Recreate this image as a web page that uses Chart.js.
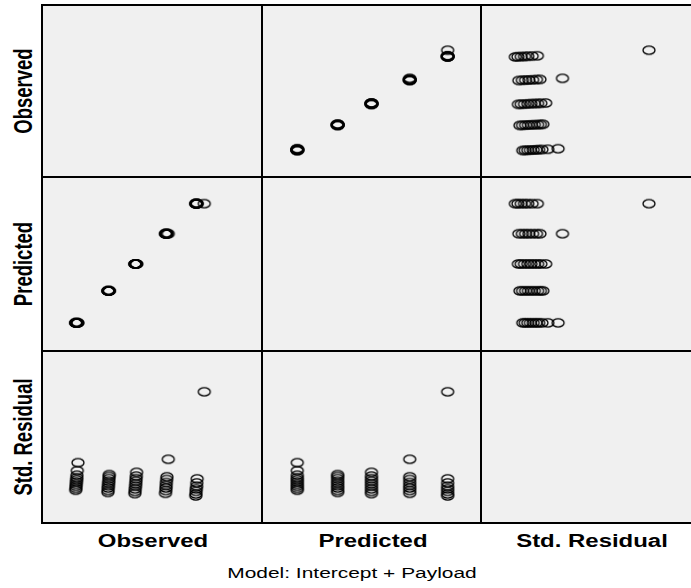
<!DOCTYPE html>
<html>
<head>
<meta charset="utf-8">
<script src="https://cdn.jsdelivr.net/npm/chart.js@4"></script>
<style>
    body { margin: 0; background: #fff; overflow: hidden; }
    #page { position: relative; width: 691px; height: 588px; overflow: hidden; }
    .cell { position: absolute; box-sizing: border-box; border: 2px solid #000; background: #f0f0f0; }
    .cell canvas { display: block; }
    .lbl { position: absolute; white-space: nowrap; color: #000;
           font-family: "Liberation Sans", Arial, sans-serif; }
    .bold { font-weight: bold; }
</style>
</head>
<body>
<div id="page"></div>
<script>
// variable names, in matrix order
const variables = ["Observed", "Predicted", "Std. Residual"];
const caption = "Model: Intercept + Payload";

// one value per case
const observed = [
    15.4, 15.5, 15.6, 15.7, 15.8, 15.9, 16.0, 16.1, 16.3, 16.7,
    33.9, 34.0, 34.1, 34.2, 34.3, 34.4, 34.5, 34.6, 34.7,
    49.4, 49.5, 49.6, 49.8, 49.9, 50.0, 50.1, 50.2, 50.4,
    67.0, 67.2, 67.3, 67.4, 67.5, 67.7, 67.8, 68.6,
    84.4, 84.5, 84.6, 84.7, 84.9, 85.0, 85.2, 89.3
];
const predicted = [
    15.8, 15.8, 15.8, 15.8, 15.8, 15.8, 15.8, 15.8, 15.8, 15.8,
    34.4, 34.4, 34.4, 34.4, 34.4, 34.4, 34.4, 34.4, 34.4,
    50.0, 50.0, 50.0, 50.0, 50.0, 50.0, 50.0, 50.0, 50.0,
    67.6, 67.6, 67.6, 67.6, 67.6, 67.6, 67.6, 67.6,
    85.1, 85.1, 85.1, 85.1, 85.1, 85.1, 85.1, 85.1
];
const stdResidual = [
    -0.53, -0.42, -0.30, -0.18, -0.05, 0.08, 0.20, 0.35, 0.62, 1.09,
    -0.66, -0.54, -0.40, -0.27, -0.13, 0.00, 0.15, 0.28, 0.39,
    -0.73, -0.60, -0.45, -0.30, -0.15, 0.00, 0.15, 0.30, 0.52,
    -0.71, -0.55, -0.40, -0.25, -0.08, 0.10, 0.26, 1.29,
    -0.87, -0.75, -0.60, -0.45, -0.30, -0.10, 0.14, 5.26
];

// axis ranges for each variable (no ticks shown)
const axisMin = [-3.4, 0, -2.4];
const axisMax = [121.9, 100, 7.6];

const values = [observed, predicted, stdResidual];

// panel borders (line centres)
const colEdges = [42, 262, 481, 701];
const rowEdges = [5, 177, 351, 523];

document.addEventListener("DOMContentLoaded", () => {
    const page = document.getElementById("page");
    const marker = makeMarker();

    for (let r = 0; r < 3; r++) {
        for (let c = 0; c < 3; c++) {
            const left = colEdges[c] - 1;
            const top = rowEdges[r] - 1;
            const w = colEdges[c + 1] - colEdges[c] + 2;
            const h = rowEdges[r + 1] - rowEdges[r] + 2;
            const cell = document.createElement("div");
            cell.className = "cell";
            cell.style.left = left + "px";
            cell.style.top = top + "px";
            cell.style.width = w + "px";
            cell.style.height = h + "px";
            page.appendChild(cell);
            if (r === c) continue;

            const canvas = document.createElement("canvas");
            canvas.width = w - 4;
            canvas.height = h - 4;
            cell.appendChild(canvas);

            const pts = [];
            for (let i = 0; i < values[c].length; i++) {
                pts.push({ x: values[c][i], y: values[r][i] });
            }
            new Chart(canvas, {
                type: "scatter",
                data: {
                    datasets: [{
                        data: pts,
                        pointStyle: marker,
                        pointRadius: 6,
                        clip: false
                    }]
                },
                options: {
                    responsive: false,
                    animation: false,
                    events: [],
                    layout: { padding: 0, autoPadding: false },
                    plugins: { legend: { display: false }, tooltip: { enabled: false } },
                    scales: {
                        x: { display: false, min: axisMin[c], max: axisMax[c] },
                        y: { display: false, min: axisMin[r], max: axisMax[r] }
                    }
                }
            });
        }
    }

    // row labels (rotated)
    for (let r = 0; r < 3; r++) {
        addLabel(variables[r], 24, (rowEdges[r] + rowEdges[r + 1]) / 2,
            "bold", "18.5px", "translate(-50%,-50%) scaleX(1.35) rotate(-90deg)");
    }
    // column labels
    for (let c = 0; c < 3; c++) {
        addLabel(variables[c], (colEdges[c] + colEdges[c + 1]) / 2 + 1, 541,
            "bold", "18px", "translate(-50%,-50%) scaleX(1.33)");
    }
    addLabel(caption, 352, 573, "", "15.5px", "translate(-50%,-50%) scaleX(1.35)");
});

// hollow, slightly wide circle like the original output
function makeMarker() {
    const m = document.createElement("canvas");
    m.width = 16;
    m.height = 12;
    const ctx = m.getContext("2d");
    ctx.strokeStyle = "#000";
    ctx.lineWidth = 1.3;
    ctx.beginPath();
    ctx.ellipse(8, 6, 6, 4.1, 0, 0, Math.PI * 2);
    ctx.stroke();
    return m;
}

function addLabel(text, x, y, cls, size, transform) {
    const d = document.createElement("div");
    d.className = "lbl " + cls;
    d.textContent = text;
    d.style.left = x + "px";
    d.style.top = y + "px";
    d.style.fontSize = size;
    d.style.transform = transform;
    document.getElementById("page").appendChild(d);
}
</script>
</body>
</html>
